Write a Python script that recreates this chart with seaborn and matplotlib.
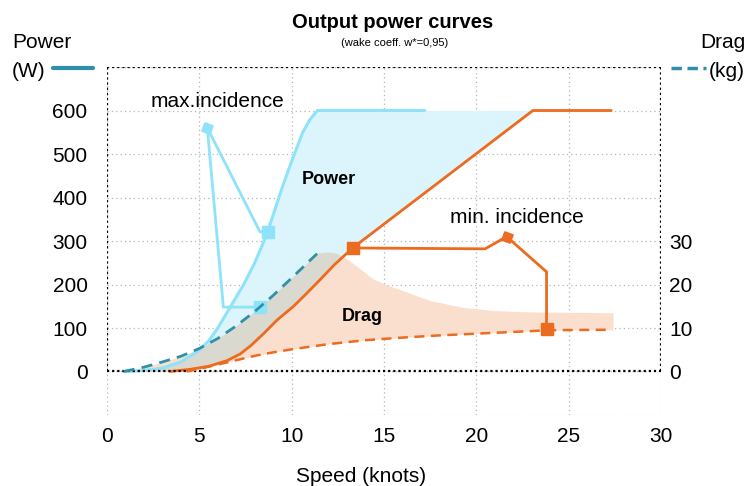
import numpy as np
import matplotlib
matplotlib.use('Agg')
import matplotlib.pyplot as plt
from matplotlib.lines import Line2D
import seaborn as sns

# speed (knots) / power (W) at max incidence
max_pow_x = [0.9, 2, 3, 4, 4.87, 5.5, 6, 6.7, 7.4, 8.0, 8.6, 9.0, 9.5, 10.1, 10.6, 11.0, 11.4, 17.2]
max_pow_y = [0, 2, 8, 22, 45, 70, 100, 150, 200, 250, 310, 360, 425, 495, 550, 580, 600, 600]
# power at min incidence
min_pow_x = [3.4, 4.5, 5.5, 6.5, 7.2, 7.8, 8.5, 9.2, 10.1, 10.7, 11.4, 12.3, 13.3, 23.06, 27.3]
min_pow_y = [0, 5, 12, 25, 40, 60, 88, 118, 150, 175, 205, 245, 284, 600, 600]
# drag (kg) at max / min incidence
drag_max_x = [0.9, 2, 3, 4, 5, 6, 7, 8, 9, 10, 11.4]
drag_max_y = [0, 1.0, 2.2, 3.5, 5.3, 7.6, 10.5, 13.8, 17.5, 21.5, 27.2]
drag_min_x = [4.3, 5, 6, 7, 8, 9, 10, 12, 14, 16, 18, 20, 22, 24, 27.3]
drag_min_y = [0, 0.6, 1.6, 2.6, 3.6, 4.4, 5.1, 6.3, 7.2, 7.8, 8.3, 8.7, 9.1, 9.5, 9.6]
# upper edge of the drag band once the max-incidence curve stops
drag_env_x = [11.9, 12.4, 13.0, 13.7, 14.4, 15.2, 16.0, 17.5, 19.3, 21.0, 22.9, 27.4]
drag_env_y = [27.5, 27.2, 25.9, 23.6, 21.3, 19.8, 18.6, 16.3, 14.7, 14.0, 13.7, 13.5]

# annotation pointers (speed, W)
max_tip = (5.43, 560)
max_path_a = ([5.43, 8.28, 8.73], [560, 321, 321])
max_path_b = ([5.43, 6.3, 8.28], [560, 148, 148])
min_tip = (21.64, 310)
min_path_a = ([13.34, 20.47, 21.64], [284, 282, 310])
min_path_b = ([21.64, 23.8, 23.8], [310, 229, 97])

x_ticks = [0, 5, 10, 15, 20, 25, 30]
pow_ticks = [0, 100, 200, 300, 400, 500, 600]
drag_ticks = [0, 10, 20, 30]

LIGHT = '#8ee2fa'
ORANGE = '#ec6b1f'
TEAL = '#2f91a9'
BLUE_FILL = '#dcf5fc'
PEACH_FILL = '#fadfcf'
GREY_FILL = '#dad9d0'

sns.set_theme(style='white')
plt.rcParams['font.family'] = ['Liberation Sans', 'DejaVu Sans']
plt.rcParams['text.color'] = 'black'
plt.rcParams['xtick.color'] = 'black'
plt.rcParams['ytick.color'] = 'black'

fig = plt.figure(figsize=(7.5, 4.86), dpi=100)
ax = fig.add_axes([0.1427, 0.1461, 0.7387, 0.7160])
ax2 = ax.twinx()
ax2.set_position(ax.get_position())

ax.set_xlim(0, 30)
ax.set_ylim(-100, 700)
ax2.set_ylim(-10, 70)

# fills, all in W units (10 kg shares the 100 W gridline)
xs = np.linspace(0.9, 27.4, 800)
env_x = drag_max_x + drag_env_x
env_y = drag_max_y + drag_env_y
blue_hi = np.interp(xs, max_pow_x, max_pow_y)
blue_lo = np.interp(xs, min_pow_x, min_pow_y)
peach_hi = np.interp(xs, env_x, env_y) * 10
peach_lo = np.interp(xs, drag_min_x, drag_min_y) * 10
in_blue = xs <= min_pow_x[-2]
ax.fill_between(xs, blue_lo, blue_hi, where=in_blue, color=BLUE_FILL, lw=0, zorder=1)
ax.fill_between(xs, peach_lo, peach_hi, color=PEACH_FILL, lw=0, zorder=1.1)
ov_lo = np.maximum(blue_lo, peach_lo)
ov_hi = np.minimum(blue_hi, peach_hi)
ax.fill_between(xs, ov_lo, ov_hi, where=(ov_hi > ov_lo) & in_blue, color=GREY_FILL, lw=0, zorder=1.2)

# grid + dotted frame
for v in x_ticks:
    ax.axvline(v, color='#b5b5b5', lw=0.9, ls=(0, (1, 2.5)), zorder=0.5)
for v in range(-100, 701, 100):
    ax.axhline(v, color='#b5b5b5', lw=0.9, ls=(0, (1, 2.5)), zorder=0.5)
dot = dict(color='black', lw=1.6, ls=(0, (1, 1.3)), zorder=5)
ax.plot([0, 30], [0, 0], **dot)
ax.plot([0, 30], [700, 700], **dot)
ax.plot([0, 0], [0, 700], **dot)
ax.plot([30, 30], [0, 700], **dot)

# curves
sns.lineplot(x=max_pow_x, y=max_pow_y, ax=ax, color=LIGHT, lw=2.2, sort=False, estimator=None, zorder=3)
sns.lineplot(x=min_pow_x, y=min_pow_y, ax=ax, color=ORANGE, lw=2.0, sort=False, estimator=None, zorder=3)
sns.lineplot(x=drag_max_x, y=drag_max_y, ax=ax2, color=TEAL, lw=2.0, sort=False, estimator=None,
             linestyle=(0, (4, 2.6)))
sns.lineplot(x=drag_min_x, y=drag_min_y, ax=ax2, color=ORANGE, lw=1.8, sort=False, estimator=None,
             linestyle=(0, (4, 2.6)))

# pointers
for px, py in (max_path_a, max_path_b):
    ax.plot(px, py, color=LIGHT, lw=2.0, zorder=4)
    ax.plot(px[-1], py[-1], marker='s', ms=8.5, color=LIGHT, lw=0, zorder=4)
ax.plot(*max_tip, marker=(4, 0, 25), ms=9, color=LIGHT, zorder=4)
ax.plot(min_path_a[0][0], min_path_a[1][0], marker='s', ms=8.5, color=ORANGE, zorder=4)
for px, py in (min_path_a, min_path_b):
    ax.plot(px, py, color=ORANGE, lw=2.0, zorder=4)
ax.plot(min_path_b[0][-1], min_path_b[1][-1], marker='s', ms=8.5, color=ORANGE, zorder=4)
ax.plot(*min_tip, marker=(4, 0, 25), ms=9, color=ORANGE, zorder=4)

ax.text(5.96, 620, 'max.incidence', ha='center', va='center', fontsize=15)
ax.text(22.2, 355, 'min. incidence', ha='center', va='center', fontsize=15)
ax.text(12.0, 442, 'Power', ha='center', va='center', fontsize=13, fontweight='bold')
ax.text(13.8, 126, 'Drag', ha='center', va='center', fontsize=13, fontweight='bold')

# ticks
for a in (ax, ax2):
    for s in a.spines.values():
        s.set_visible(False)
    a.grid(False)
ax.set_xticks(x_ticks)
ax.set_yticks(pow_ticks)
ax2.set_yticks(drag_ticks)
ax.tick_params(axis='x', length=0, pad=9, labelsize=15)
ax.tick_params(axis='y', length=0, pad=14, labelsize=15)
ax2.tick_params(axis='y', length=0, pad=6, labelsize=15)
ax.set_xlabel('')
ax.set_ylabel('')
ax2.set_ylabel('')

# titles and axis captions
fig.text(393 / 750, 1 - 22 / 486, 'Output power curves', ha='center', va='center',
         fontsize=14.5, fontweight='bold')
fig.text(395 / 750, 1 - 43 / 486, '(wake coeff. w*=0,95)', ha='center', va='center', fontsize=8)
fig.text(361 / 750, 1 - 476 / 486, 'Speed (knots)', ha='center', va='center', fontsize=15)
fig.text(12 / 750, 1 - 42 / 486, 'Power', ha='left', va='center', fontsize=15)
fig.text(12 / 750, 1 - 71 / 486, '(W)', ha='left', va='center', fontsize=15)
fig.text(745 / 750, 1 - 42 / 486, 'Drag', ha='right', va='center', fontsize=15)
fig.text(745 / 750, 1 - 71 / 486, '(kg)', ha='right', va='center', fontsize=15)
fig.add_artist(Line2D([53 / 750, 93 / 750], [1 - 68 / 486] * 2, color=TEAL, lw=3,
                      transform=fig.transFigure))
fig.add_artist(Line2D([671 / 750, 706 / 750], [1 - 68 / 486] * 2, color=TEAL, lw=2.5,
                      ls=(0, (3, 1.6)), transform=fig.transFigure))

fig.savefig('out.png', dpi=100)
